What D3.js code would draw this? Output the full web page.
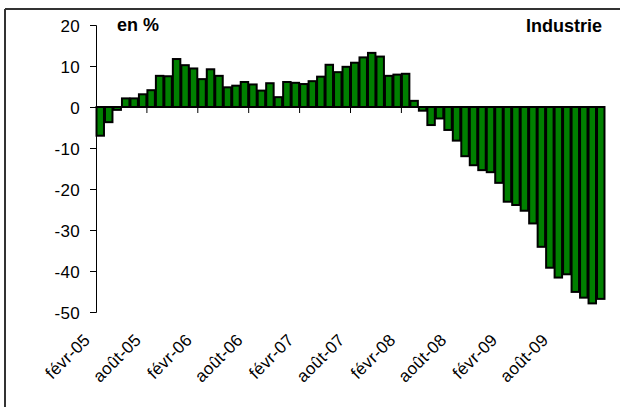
<!DOCTYPE html>
<html><head>
<meta charset="utf-8">
<script src="https://d3js.org/d3.v7.min.js"></script>
<style>
  body { margin: 0; background: #fff; }
  text { font-family: "Liberation Sans", Arial, sans-serif; fill: #000; }
  .bar { fill: #008000; stroke: #000; stroke-width: 2px; }
  .axis path, .axis line { stroke: #000; stroke-width: 1px; }
  .tick-label { font-size: 17px; letter-spacing: 0.3px; }
</style>
</head>
<body>
<svg id="chart" width="620" height="412"></svg>
<script>

// monthly values, févr-05 .. janv-10 (en %)
const months = ["janv","févr","mars","avr","mai","juin","juil","août","sept","oct","nov","déc"];
const values = [
  -7.0, -3.7, -0.7, 2.1, 2.1, 3.1, 4.1, 7.6, 7.5, 11.7, 10.2, 9.4,
  6.8, 9.2, 7.6, 4.8, 5.2, 6.1, 5.5, 4.0, 5.8, 2.4, 6.1, 5.9,
  5.6, 6.3, 7.4, 10.3, 8.5, 9.8, 10.8, 12.1, 13.2, 12.3, 7.6, 7.9,
  8.1, 1.5, -0.9, -4.4, -2.8, -5.6, -8.2, -12.0, -14.2, -15.4, -15.9, -18.5,
  -23.1, -23.9, -25.3, -28.4, -34.1, -39.2, -41.6, -40.8, -45.1, -46.5, -47.9, -46.8
];
const yTicks = [20, 10, 0, -10, -20, -30, -40, -50];

// labels "févr-05" etc, built from the month list
const categories = values.map((v, i) => {
  const m = (1 + i) % 12;
  const yr = 5 + Math.floor((1 + i) / 12);
  return months[m] + "-" + String(yr).padStart(2, "0");
});

const svg = d3.select("#chart");

// frame (only top and left edges are in the picture)
svg.append("line").attr("x1", 5).attr("x2", 620).attr("y1", 9).attr("y2", 9)
  .attr("stroke", "#333").attr("stroke-width", 2);
svg.append("line").attr("x1", 5).attr("x2", 5).attr("y1", 9).attr("y2", 407)
  .attr("stroke", "#333").attr("stroke-width", 2);

const plot = { left: 96, right: 605, top: 25, bottom: 312 };

const x = d3.scaleBand().domain(categories).range([plot.left, plot.right]).paddingInner(0.12).paddingOuter(0.06);
const y = d3.scaleLinear().domain([-50, 20]).range([plot.bottom, plot.top]);
const step = x.step();

// bars
svg.append("g").selectAll("rect")
  .data(values)
  .join("rect")
  .attr("class", "bar")
  .attr("x", (d, i) => x(categories[i]))
  .attr("width", x.bandwidth())
  .attr("y", d => y(Math.max(0, d)))
  .attr("height", d => Math.abs(y(d) - y(0)));

// y axis
const yAxis = d3.axisLeft(y).tickValues(yTicks).tickSize(6).tickPadding(10).tickFormat(d => String(d));
svg.append("g").attr("class", "axis")
  .attr("transform", "translate(" + plot.left + ",0)")
  .call(yAxis)
  .call(g => g.selectAll("text").attr("class", "tick-label").attr("dy", "0.36em"));

// x axis line at 0 with ticks between categories every 6 months
const xg = svg.append("g").attr("class", "axis");
xg.append("line").attr("x1", plot.left).attr("x2", plot.right)
  .attr("y1", y(0)).attr("y2", y(0));
const tickIdx = d3.range(6, categories.length, 6);
xg.selectAll(".tk").data(tickIdx).join("line")
  .attr("class", "tk")
  .attr("x1", i => plot.left + i * step).attr("x2", i => plot.left + i * step)
  .attr("y1", y(0)).attr("y2", y(0) + 6);

// rotated category labels below the plot
const labelIdx = d3.range(0, categories.length, 6);
svg.append("g").selectAll("text").data(labelIdx).join("text")
  .attr("class", "tick-label")
  .attr("text-anchor", "end")
  .attr("transform", i => "translate(" + (plot.left + (i + 0.5) * step - 9) + ",341) rotate(-45)")
  .text(i => categories[i]);

// titles
svg.append("text").attr("x", 117).attr("y", 31)
  .style("font-size", "18px").style("font-weight", "bold").text("en %");
svg.append("text").attr("x", 602).attr("y", 32).attr("text-anchor", "end")
  .style("font-size", "18px").style("font-weight", "bold").text("Industrie");

</script>
</body>
</html>
